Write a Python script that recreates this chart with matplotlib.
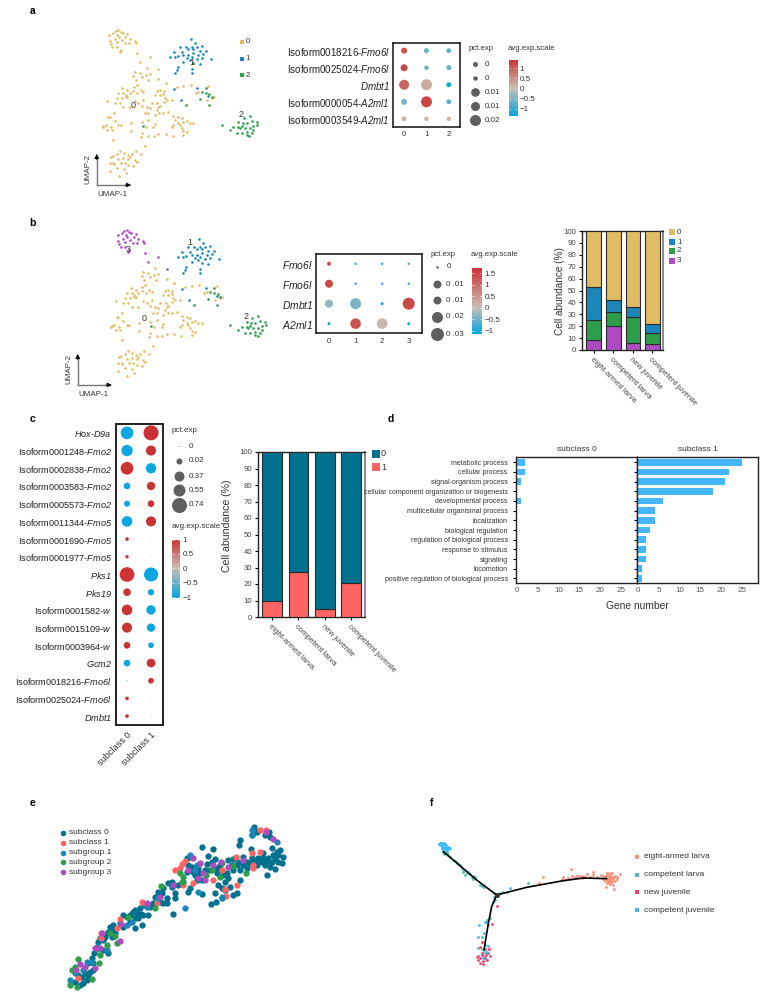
import numpy as np
import matplotlib
matplotlib.use('Agg')
import matplotlib.pyplot as plt
from matplotlib.colors import LinearSegmentedColormap, TwoSlopeNorm

plt.rcParams['font.family'] = ['Liberation Sans', 'DejaVu Sans']
plt.rcParams['mathtext.fontset'] = 'custom'
plt.rcParams['mathtext.rm'] = 'Liberation Sans'
plt.rcParams['mathtext.it'] = 'Liberation Sans:italic'
plt.rcParams['mathtext.cal'] = 'Liberation Sans:italic'
plt.rcParams['mathtext.default'] = 'regular'

# ---------------------------------------------------------------- data
umap_top = [(295,90),(287,93),(302,97),(280,100),(268,106),(292,104),(308,100),(322,103),(316,112),(296,112),(305,120),(270,122),(285,118),(330,117),(345,122),(347,130),(272,133),(291,127),(326,128),(315,130),(277,140),(290,142),(303,150),(300,156),(350,160),(390,170),(360,185),(415,208)]
umap_main = [(380,205),(345,217),(360,218),(378,225),(390,222),(340,228),(365,232),(383,240),(415,237),(348,240),(437,250),(350,255),(342,262),
 (307,265),(322,270),(340,272),(362,270),(370,275),(295,280),(310,280),(318,285),(330,278),(352,280),(420,270),(410,272),(432,272),(405,285),(420,285),(430,282),(290,295),(262,302),(305,295),(318,292),(322,290),(370,300),(395,308),(412,310),(420,318),(435,295),(440,300),(455,300),(432,305),(285,310),(300,310),(310,320),(345,303),(355,310),(365,318),(380,320),(390,325),(415,320),(410,330),(445,335),(430,340),(418,340),(405,345),(385,338),(375,340),(330,320),(282,338),(265,350),(270,352),
 (470,262),(490,257),(512,255),(528,280),(535,275),(565,258),(575,295),(582,292),(560,300),
 (460,348),(475,352),(485,355),(465,360),(490,365),(500,362),(475,370),(460,375),(485,385),(520,368),(510,368),(480,375),(455,382),(490,392),(500,395),(438,402),(458,408),(490,405),
 (385,360),(365,365),(378,382),(365,400),(405,372),(400,380),(385,408),(402,408),(415,403),(362,412),(333,370),(333,392),(295,375),(302,375),(285,362),(250,378),(258,375),(248,380),(272,380),(275,390),(262,390),(280,420),(375,437),
 (347,452),(300,452),(312,458),(290,462),(278,468),(272,470),(323,465),(335,462),(362,462),(345,480),(330,472),(310,475),(295,478),(270,488),(282,492),(302,490),(315,490),(325,495),(340,498),(350,485),(325,478),(270,512),(290,505),(312,508),(318,518),(297,527),(280,490)]
umap_blue = [(512,118),(525,128),(480,140),(498,140),(515,142),(530,142),(545,138),(462,155),(485,155),(505,148),(520,148),(540,152),(557,152),(450,172),(465,172),(473,168),(490,165),(505,165),(520,160),(535,165),(550,162),(500,175),(515,172),(530,178),(545,175),(573,178),(490,185),(510,180),(520,190),(540,193),(473,202),(470,210),(515,207),(465,220),(515,220),(462,266),(532,265),(482,300),(565,287)]
umap_green = [(630,390),(605,375),(640,380),(655,365),(672,355),(690,348),(665,378),(680,370),(695,362),(710,365),(700,378),(660,385),(675,385),(690,385),(712,375),(650,398),(665,398),(680,395),(695,398),(688,408),(668,370),(700,390),(655,380),(680,405),(558,265),(545,275),(558,278),(568,282),(540,298),(567,315),(498,315),(368,378),(575,290)]

genes_a = ['Isoform0018216-$\\mathcal{Fmo6l}$','Isoform0025024-$\\mathcal{Fmo6l}$','$\\mathcal{Dmbt1}$','Isoform0000054-$\\mathcal{A2ml1}$','Isoform0003549-$\\mathcal{A2ml1}$']
groups_a = ['0','1','2']
pct_a = [[.006,.004,.004],[.008,.0033,.004],[.0165,.02,.004],[.006,.02,.004],[.004,.0033,.0033]]
exp_a = [[1.1,-.7,-.7],[1.2,-.7,-.7],[.9,.2,-1.3],[-.6,1.2,-.7],[.05,.05,.05]]

genes_b = ['$\\mathcal{Fmo6l}$','$\\mathcal{Fmo6l}$','$\\mathcal{Dmbt1}$','$\\mathcal{A2ml1}$']
groups_b = ['0','1','2','3']
pct_b = [[.0028,.0011,.0011,.0011],[.0114,.0011,.0011,.0011],[.012,.0215,.0016,.0256],[.0016,.02,.02,.0016]]
exp_b = [[1.4,-.8,-.8,-.8],[1.4,-.8,-.8,-.8],[-.3,-.45,-1.1,1.4],[-1,1.3,.1,-1]]

stages = ['eight-armed larva','competent larva','new juvenile','competent juvenile']
b_cluster3 = [8.5,20,6,5]
b_cluster2 = [17,12,21.5,9]
b_cluster1 = [27.5,10,9,7.5]
b_cluster0 = [47,58,63.5,78.5]

genes_c = ['$\\mathcal{Hox}$-$\\mathcal{D9a}$','Isoform0001248-$\\mathcal{Fmo2}$','Isoform0002838-$\\mathcal{Fmo2}$','Isoform0003583-$\\mathcal{Fmo2}$','Isoform0005573-$\\mathcal{Fmo2}$','Isoform0011344-$\\mathcal{Fmo5}$','Isoform0001690-$\\mathcal{Fmo5}$','Isoform0001977-$\\mathcal{Fmo5}$','$\\mathcal{Pks1}$','$\\mathcal{Pks19}$','Isoform0001582-$\\mathcal{w}$','Isoform0015109-$\\mathcal{w}$','Isoform0003964-$\\mathcal{w}$','$\\mathcal{Gcm2}$','Isoform0018216-$\\mathcal{Fmo6l}$','Isoform0025024-$\\mathcal{Fmo6l}$','$\\mathcal{Dmbt1}$']
groups_c = ['subclass 0','subclass 1']
pct_c = [[.53,.74],[.42,.33],[.53,.35],[.146,.23],[.118,.146],[.37,.33],[.044,.0015],[.037,.0015],[.71,.65],[.19,.13],[.37,.29],[.33,.23],[.146,.105],[.146,.25],[.003,.105],[.044,.0015],[.044,.0015]]
exp_c = [[-1,1],[-1,1],[1,-1],[-1,1],[-1,1],[-1,1],[1,-1],[1,-1],[1,-1],[1,-1],[1,-1],[1,-1],[1,-1],[-1,1],[-1,1],[1,-1],[1,-1]]

c_sub1 = [10,27,5,20.5]
c_sub0 = [90,73,95,79.5]

go_terms = ['metabolic process','cellular process','signal-organism process','cellular component organization or biogenesis','developmental process','multicellular organismal process','localization','biological regulation','regulation of biological process','response to stimulus','signaling','locomotion','positive regulation of biological process']
go_sub0 = [2,2,1,0,1,0,0,0,0,0,0,0,0]
go_sub1 = [25,22,21,18,6,4,4,3,2,2,2,1,1]

e_sub0 = [(180,585),(190,578),(200,570),(210,545),(218,540),(195,550),(175,555),(205,520),(215,505),(222,490),(235,455),(250,450),(265,425),(270,410),(280,405),(285,430),(250,480),(265,490),(300,400),(310,410),(322,380),(330,375),(340,365),(350,370),(360,355),(345,385),(355,385),(370,375),(385,375),(365,405),(345,415),(405,320),(415,305),(430,295),(445,280),(455,275),(465,310),(465,325),(430,340),(440,340),(458,373),(475,285),(490,275),(500,205),(510,200),(505,225),(520,245),(535,235),(545,172),(565,198),(580,178),(585,207),(560,222),(570,240),(590,250),(600,225),(620,250),(615,275),(595,285),(605,295),(660,270),(630,290),(650,310),(638,315),(615,300),(585,310),(605,325),(572,342),(587,336),(545,312),(510,295),(530,270),(545,270),(505,305),(625,210),(640,207),(635,225),(650,225),(660,240),(668,200),(680,215),(690,220),(705,210),(725,215),(735,225),(745,205),(755,175),(780,180),(790,200),(770,185),(760,195),(775,215),(785,220),(765,238),(742,255),(750,230),(660,150),(657,165),(703,112),(695,135),(712,125),(735,135),(748,127),(750,140),(692,178),
 (165,575),(185,560),(205,555),(220,520),(240,445),(255,440),(275,440),(280,418),(255,435),(310,375),(330,395),(345,360),(362,372),(375,345),(390,352),(400,340),(420,335),(425,310),(440,325),(455,290),(500,245),(515,230),(525,255),(540,250),(555,240),(575,215),(590,235),(610,255),(625,265),(640,240),(655,215),(670,225),(695,205),(715,205),(730,205),(740,215),(755,215),(765,205),(775,195),(730,190),(720,210),(710,225),(680,235)]
e_sub1 = [(465,240),(485,222),(495,212),(480,235),(490,285),(520,280),(410,340),(365,337),(300,388),(290,415),(242,430),(242,445),(605,240),(580,270),(615,298),(618,318),(650,285),(648,200),(695,188),(720,185),(700,225),(700,235),(720,120),(738,120),(175,565),(380,345)]
e_grp1 = [(150,570),(165,550),(190,540),(200,515),(215,515),(262,480),(230,470),(320,405),(335,395),(380,350),(495,355),(530,225),(525,240),(510,195),(695,120),(697,135),(770,155),(605,320),(535,305),(415,325)]
e_grp2 = [(150,585),(170,590),(155,540),(175,508),(165,530),(215,568),(237,518),(240,495),(235,478),(260,465),(270,430),(285,437),(292,460),(323,380),(405,355),(422,288),(480,248),(490,262),(485,275),(558,255),(605,218),(600,262),(640,228),(678,250),(575,240)]
e_grp3 = [(168,540),(180,522),(195,532),(225,535),(225,475),(240,475),(300,452),(245,428),(303,403),(380,340),(420,320),(458,285),(520,203),(505,240),(540,218),(580,225),(625,232),(555,270),(535,265),(550,250),(670,210),(760,148),(738,125),(602,215)]
e_names = ['subclass 0','subclass 1','subgroup 1','subgroup 2','subgroup 3']

f_eight = [(590,255),(600,250),(605,248),(585,262),(595,262),(605,260),(615,258),(580,268),(590,270),(600,268),(610,268),(620,262),(630,252),(595,275),(605,275),(615,272),(622,266),(590,280),(600,282),(610,285),(612,296),(588,290),(600,258),(592,250),(585,272),(598,272),(572,256),(550,245),(548,256),(530,252),(520,257),(510,258),(500,258),(495,262),(485,258),(483,238),(475,265),(465,270),(460,262),(540,262),(525,262),(515,265),(480,268),(560,262),(400,260),(388,278),(580,258),(455,268),
 (598,255),(603,265),(592,266),(607,270),(597,280),(603,272),(612,262),(588,258),(595,268),(601,262)]
f_larva = [(100,180),(105,188),(110,190),(130,210),(140,218),(150,225),(155,235),(165,240),(170,248),(165,255),(175,245),(190,258),(195,262),(188,268),(215,288),(222,292),(253,310),(270,308),(280,305),(290,305),(355,280),(255,330),(250,335),(240,385),(232,390),(228,397),(235,405),(215,440),(203,440),(225,465),(205,475),(215,478),(228,490),(220,490),(252,320),
 (100,185),(108,183),(103,192),(115,195),(120,200),(135,212),(145,222),(160,238),(158,245),(180,252),(185,262),(210,285)]
f_newj = [(260,348),(245,403),(215,455),(210,472),(225,478),(238,477),(215,488),(235,490),(205,498),(215,495),(228,495),(240,497),(200,502),(210,505),(222,500),(203,510),(218,512),(230,510),(210,518),(220,522),(238,478),(225,505)]
f_compj = [(95,158),(90,165),(100,165),(95,172),(105,170),(110,175),(118,178),(100,178),(112,182),(105,162),(98,170),(108,178),(88,163),(120,175),(300,295),(208,405),(225,395),(222,428),(235,468),(222,480),(232,485),(218,505),(228,485),(270,308),
 (93,160),(97,175),(103,175),(107,166),(115,172),(101,158),(90,158)]
f_branch1 = [(100,185),(130,210),(165,240),(200,270),(260,315)]
f_branch2 = [(260,315),(350,292),(460,272),(520,264),(590,266)]
f_branch3 = [(260,315),(245,350),(235,400),(222,480)]

# ---------------------------------------------------------------- styling
YEL, BLU, GRN, PUR = '#E0BC63', '#1B87B9', '#2E9E4A', '#AC4CC0'
TEAL, CORAL = '#00708F', '#FF6464'
TXT = '#333333'
DOT_CMAP = LinearSegmentedColormap.from_list('dot', ['#07A5E2', '#C9BEB4', '#CB3234'])

W, H = 764, 1000
fig = plt.figure(figsize=(W/100, H/100), dpi=100)

def box(x0, y0, x1, y1, **kw):
    return fig.add_axes([x0/W, 1-y1/H, (x1-x0)/W, (y1-y0)/H], **kw)

ov = box(0, 0, W, H, zorder=5)
ov.set_xlim(0, W); ov.set_ylim(H, 0); ov.axis('off'); ov.patch.set_alpha(0)

def px2s(d):
    return (d*0.72)**2

def label(x, y, s, size=6.3, ha='left', va='center', color=TXT, **kw):
    ov.text(x, y, s, fontsize=size, ha=ha, va=va, color=color, **kw)

for (x, y, s) in [(32.5,10.5,'a'),(32,223,'b'),(32.5,419,'c'),(391,419,'d'),(32,803,'e'),(432,803,'f')]:
    label(x, y, s, size=7.5, ha='center', color='black', fontweight='bold')

def xy(points):
    a = np.array(points, dtype=float)
    return a[:, 0], a[:, 1]

def arrows(x0, y0, xt, yt, t2, t1):
    ov.plot([x0, x0], [y0, yt+2], color='#777777', lw=1)
    ov.plot([x0, xt-2], [y0, y0], color='#777777', lw=1)
    ov.annotate('', xy=(x0, yt), xytext=(x0, yt+6), arrowprops=dict(arrowstyle='-|>', color='black', lw=0.5, mutation_scale=7, shrinkA=0, shrinkB=0))
    ov.annotate('', xy=(xt, y0), xytext=(xt-6, y0), arrowprops=dict(arrowstyle='-|>', color='black', lw=0.5, mutation_scale=7, shrinkA=0, shrinkB=0))
    label(t2[0], t2[1], 'UMAP-2', size=5.8, ha='center', rotation=90)
    label(t1[0], t1[1], 'UMAP-1', size=5.8, ha='center')

def umap_axes(x0, y0):
    ax = box(x0, y0, x0+260, y0+210)
    ax.set_xlim(0, 780); ax.set_ylim(630, 0); ax.axis('off')
    return ax

def dotplot(ext, genes, groups, pct, expr, pmax, dmax, vmin, vmax, xlim, ylim, fs, rot=0, lw=1.2, pad=2):
    ax = box(*ext)
    n_g, n_c = len(genes), len(groups)
    X, Y = np.meshgrid(np.arange(n_c), np.arange(n_g))
    d = dmax*np.sqrt(np.array(pct)/pmax)
    norm = TwoSlopeNorm(vmin=vmin, vcenter=0, vmax=vmax)
    ax.scatter(X.ravel(), Y.ravel(), s=px2s(d.ravel()), c=np.array(expr).ravel(), cmap=DOT_CMAP, norm=norm, linewidths=0, zorder=3)
    ax.set_xlim(*xlim); ax.set_ylim(*ylim)
    ax.set_yticks(range(n_g)); ax.set_yticklabels(genes, fontsize=fs, color='#222222')
    ax.set_xticks(range(n_c))
    if rot:
        ax.set_xticklabels(groups, fontsize=fs, rotation=rot, ha='right', rotation_mode='anchor', color=TXT)
    else:
        ax.set_xticklabels(groups, fontsize=5.6, color=TXT)
    ax.tick_params(axis='y', length=0, pad=pad)
    ax.tick_params(axis='x', length=0, pad=3.5)
    for s in ax.spines.values():
        s.set_linewidth(lw); s.set_color('#222222')
    return ax, norm

def colorbar(ext, vmin, vmax, ticks, labels, norm, fs=5.8):
    ax = box(*ext)
    grad = np.linspace(vmax, vmin, 256).reshape(-1, 1)
    ax.imshow(grad, aspect='auto', extent=[0, 1, vmin, vmax], cmap=DOT_CMAP, norm=norm)
    ax.set_xticks([])
    ax.yaxis.tick_right()
    ax.set_yticks(ticks); ax.set_yticklabels(labels, fontsize=fs, color=TXT)
    ax.tick_params(axis='y', length=0, pad=2)
    for t in ticks:
        ax.plot([0, .2], [t, t], color='white', lw=.4)
        ax.plot([.8, 1], [t, t], color='white', lw=.4)
    ax.set_xlim(0, 1); ax.set_ylim(vmin, vmax)
    for s in ax.spines.values():
        s.set_visible(False)

def size_legend(x, ys, diam, labels, lx, fs=5.8):
    for y, d, t in zip(ys, diam, labels):
        ov.scatter([x], [y], s=px2s(d), color='#5F5F5F', linewidths=0)
        label(lx, y, t, size=fs)

def stacked(ext, series, width, xlim, fs, ylab_x, ylab_y, ylab_fs, lw=.8):
    ax = box(*ext)
    x = np.arange(len(stages))
    bottom = np.zeros(len(stages))
    for vals, col in series:
        ax.bar(x, vals, width=width, bottom=bottom, color=col, edgecolor='#2B2B2B', linewidth=lw, zorder=3)
        bottom += np.array(vals)
    ax.set_xlim(*xlim); ax.set_ylim(0, 100)
    ax.set_yticks(range(0, 101, 10))
    ax.set_xticks(x)
    ax.set_xticklabels(stages, rotation=-45, ha='left', va='top', rotation_mode='anchor', fontsize=fs, color='#444444')
    ax.tick_params(axis='y', labelsize=fs, labelcolor='#444444', length=2.5, width=.8, pad=1.5)
    ax.tick_params(axis='x', length=2.5, width=.8, pad=2)
    for s in ['left', 'bottom', 'top']:
        ax.spines[s].set_linewidth(1); ax.spines[s].set_color('#222222')
    ax.spines['right'].set_linewidth(1.2); ax.spines['right'].set_color('#777777')
    label(ylab_x, ylab_y, 'Cell abundance (%)', size=ylab_fs, ha='center', rotation=90)
    return ax

# ---------------------------------------------------------------- panel a
ax = umap_axes(20, 0)
for pts, col in [(umap_top + umap_main, YEL), (umap_blue, BLU), (umap_green, GRN)]:
    px, py = xy(pts)
    ax.scatter(px, py, s=px2s(2.6), color=col, linewidths=0)
for (tx, ty, t) in [(338,318,'0'),(515,187,'1'),(662,343,'2')]:
    ax.text(tx, ty, t, fontsize=6.5, color=TXT, ha='center', va='center')
arrows(96.7, 185, 131, 154, (88, 169), (112, 195))
for y, c, t in [(41.7,YEL,'0'),(58.7,BLU,'1'),(75.3,GRN,'2')]:
    ov.scatter([241.7], [y], s=px2s(4.5), marker='s', color=c, linewidths=0)
    label(245.5, y, t, size=5.8)

_, n = dotplot((392.5,43,460,126.5), genes_a, groups_a, pct_a, exp_a, .02, 11, -1.35, 1.4, (-.52,2.5), (4.45,-.45), 7)
label(469, 49, 'pct.exp', size=5.6)
label(508, 49, 'avg.exp.scale', size=5.6)
size_legend(475, [64,78,92,106,120], [5,4.5,8.7,9,11], ['0','0','0.01','0.01','0.02'], 485)
colorbar((508.5,60,517,116), -1.35, 1.4, [-1,-.5,0,.5,1], ['\u22121','\u22120.5','0','0.5','1'], n)

# ---------------------------------------------------------------- panel b
ax = umap_axes(28.3, 200)
for pts, col in [(umap_main, YEL), (umap_blue, BLU), (umap_green, GRN), (umap_top, PUR)]:
    px, py = xy(pts)
    ax.scatter(px, py, s=px2s(2.6), color=col, linewidths=0)
for (tx, ty, t) in [(346,356,'0'),(486,128,'1'),(653,350,'2'),(301,148,'3')]:
    ax.text(tx, ty, t, fontsize=6.5, color=TXT, ha='center', va='center')
arrows(77.7, 385, 111.7, 354, (69, 369), (93, 395))

_, n = dotplot((316,254,422,333), genes_b, groups_b, pct_b, exp_b, .03, 13, -1.13, 1.72, (-.49,3.5), (3.47,-.49), 7.5)
label(431, 255, 'pct.exp', size=5.6)
label(471, 255, 'avg.exp.scale', size=5.6)
size_legend(437, [267,284,300,317,334], [2.5,8,8,11,13], ['0','0 .01','0 .01','0 .02','0 .03'], 446.5)
colorbar((472,268,482,334), -1.13, 1.72, [-1,-.5,0,.5,1,1.5], ['\u22121','\u22120.5','0','0.5','1','1.5'], n)

stacked((582,231,663,350), [(b_cluster3,PUR),(b_cluster2,GRN),(b_cluster1,BLU),(b_cluster0,YEL)], .75, (-.6,3.54), 5.6, 560, 291, 7.2)
for y, c, t in [(232,YEL,'0'),(242,BLU,'1'),(251,GRN,'2'),(261,PUR,'3')]:
    ov.scatter([672], [y], s=px2s(6.5), marker='s', color=c, linewidths=0)
    label(677, y, t, size=5.8)

# ---------------------------------------------------------------- panel c
_, n = dotplot((116,424,163,725), genes_c, groups_c, pct_c, exp_c, .74, 15, -1.03, 1, (-.46,1.5), (16.5,-.5), 6.6, rot=45, lw=1.4, pad=3)
label(172, 430, 'pct.exp', size=5.8)
label(172, 527, 'avg.exp.scale', size=5.8)
size_legend(179, [446,461,476,490,505], [.8,6,10,12,15], ['0','0.02','0.37','0.55','0.74'], 189)
colorbar((172,539.5,180,598), -1.03, 1, [-1,-.5,0,.5,1], ['\u22121','\u22120.5','0','0.5','1'], n)

stacked((258,452,365,617), [(c_sub1,CORAL),(c_sub0,TEAL)], .75, (-.53,3.52), 5.6, 227, 526, 7.6)
for y, c, t in [(454,TEAL,'0'),(467,CORAL,'1')]:
    ov.scatter([376], [y], s=px2s(8), marker='s', color=c, linewidths=0)
    label(381, y, t, size=6.5)

# ---------------------------------------------------------------- panel d
for ext, vals, title, show in [((516,457,637,583), go_sub0, 'subclass 0', True), ((637,457,758,583), go_sub1, 'subclass 1', False)]:
    ax = box(*ext)
    ax.barh(range(len(vals)), vals, height=.72, color='#45B6FA', linewidth=0)
    ax.set_xlim(-.25, 28.9); ax.set_ylim(12.48, -.55)
    ax.set_xticks(range(0, 26, 5))
    ax.tick_params(axis='x', labelsize=5.8, labelcolor='#555555', length=0, pad=3)
    ax.set_yticks(range(len(vals)))
    ax.tick_params(axis='y', length=2, width=.8, pad=4, left=True)
    ax.set_yticklabels(go_terms if show else [], fontsize=5, color='#333333')
    for s in ax.spines.values():
        s.set_linewidth(1); s.set_color('#222222')
    ax.set_title(title, fontsize=6, color=TXT, pad=4)
label(637, 606, 'Gene number', size=7.4, ha='center')

# ---------------------------------------------------------------- panel e
ax = box(20, 790, 350, 1000)
ax.set_xlim(0, 990); ax.set_ylim(630, 0); ax.axis('off')
e_sets = [e_sub0, e_sub1, e_grp1, e_grp2, e_grp3]
e_cols = [TEAL, CORAL, BLU, GRN, PUR]
for pts, col in zip(e_sets, e_cols):
    px, py = xy(pts)
    ax.scatter(px, py, s=px2s(6.3), color=col, linewidths=0)
for y, c, t in zip([833,843,852.5,862,872], [TEAL,CORAL,BLU,GRN,PUR], e_names):
    ov.scatter([62.7], [y], s=px2s(5.5), color=c, linewidths=0)
    label(69, y, t, size=6)

# ---------------------------------------------------------------- panel f
ax = box(410, 790, 740, 990)
ax.set_xlim(0, 990); ax.set_ylim(600, 0); ax.axis('off')
for pts in [f_branch1, f_branch2, f_branch3]:
    px, py = xy(pts)
    ax.plot(px, py, color='black', lw=1.2, zorder=4, solid_capstyle='round')
f_sets = [f_eight, f_larva, f_newj, f_compj]
f_cols = ['#F4917A', '#4DBDB1', '#F4426C', '#3FB8FB']
for pts, col in zip(f_sets, f_cols):
    px, py = xy(pts)
    ax.scatter(px, py, s=px2s(2.8), color=col, linewidths=0, zorder=3)
ax.scatter([f_branch1[-1][0]], [f_branch1[-1][1]], s=px2s(5), color='#333333', linewidths=0, zorder=5)
for y, c, t in zip([857,875,892,910], f_cols, stages):
    ov.scatter([636.7], [y], s=px2s(5), marker='s', color=c, linewidths=0)
    label(643.5, y, t, size=6)

fig.savefig('out.png', dpi=100)
